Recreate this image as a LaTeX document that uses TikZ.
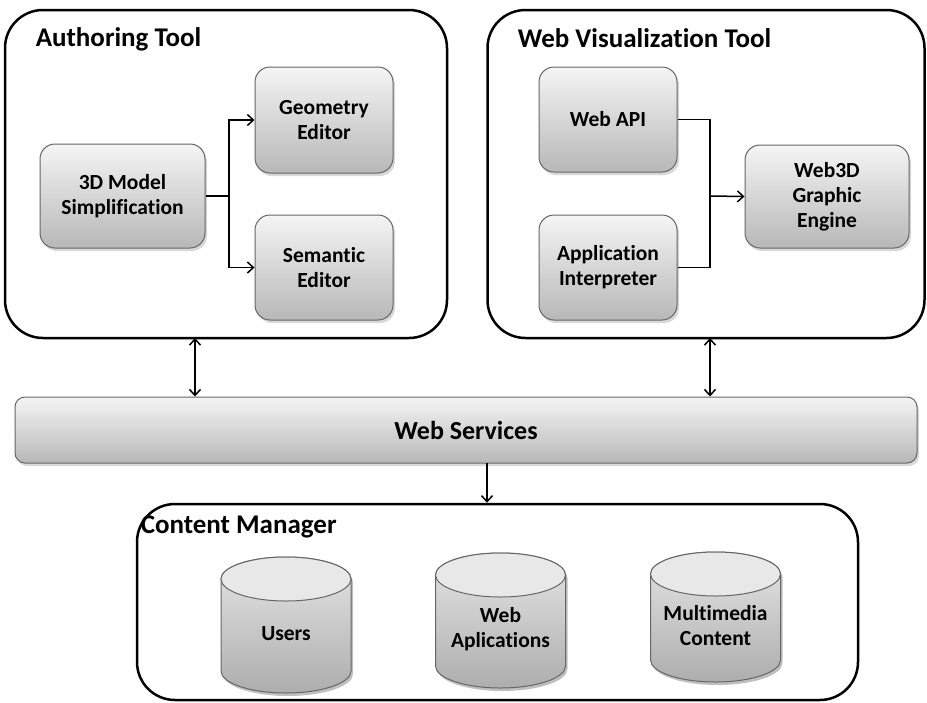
\documentclass[tikz,border=0pt]{standalone}
\usepackage{fontspec}
\setmainfont{Carlito}[RawFeature = {-liga;-clig;-calt;-dlig}]
\usetikzlibrary{shadows,arrows.meta}

% A database drum: name, centre x, top y, bottom y, text.
\newcommand{\dbdrum}[5]{%
    \fill[black, opacity = 0.25]
        (#2-63, #3+25) -- (#2-63, #4-19)
        arc[start angle = 180, end angle = 0, x radius = 65, y radius = 22]
        -- (#2+67, #3+25)
        arc[start angle = 0, end angle = -180, x radius = 65, y radius = 22] -- cycle;
    \shadedraw[dbbody]
        (#2-65, #3+22) -- (#2-65, #4-22)
        arc[start angle = 180, end angle = 0, x radius = 65, y radius = 22]
        -- (#2+65, #3+22)
        arc[start angle = 0, end angle = -180, x radius = 65, y radius = 22] -- cycle;
    \filldraw[dbtop] (#2, #3+22) ellipse[x radius = 65, y radius = 22];
    \node[dbtext] at (#2, {(#3+#4)/2+9}) (#1) {#5};
}

\begin{document}
\begin{tikzpicture}[%
        x = 1pt,
        y = -1pt,
        line width = 1.5pt,
        > = {Straight Barb[length = 6pt, width = 11pt]},
        outerbox/.style = {
            draw = black,
            line width = 2.5pt,
            rounded corners = 38pt,
            fill = white,
            inner sep = 0pt
        },
        boxtitle/.style = {
            anchor = base west,
            inner sep = 0pt,
            font = \bfseries\fontsize{27}{32}\selectfont
        },
        block/.style = {
            draw = black!60,
            line width = 1pt,
            rounded corners = 15pt,
            top color = black!4,
            bottom color = black!28,
            drop shadow = {shadow xshift = 2pt, shadow yshift = -3pt, opacity = 0.3},
            align = center,
            inner sep = 0pt,
            font = \bfseries\fontsize{21.5}{25}\selectfont
        },
        dbbody/.style = {
            draw = black!60,
            line width = 1pt,
            top color = black!10,
            bottom color = black!32
        },
        dbtop/.style = {
            draw = black!60,
            line width = 1pt,
            fill = black!9
        },
        dbtext/.style = {
            align = center,
            inner sep = 0pt,
            font = \bfseries\fontsize{21.5}{25}\selectfont
        }
    ]

        \useasboundingbox (0, 0) rectangle (927, 702);

        % Outer frames of the two tools and the content manager.
        \node[outerbox, minimum width = 442pt, minimum height = 328pt] at (226, 174) (auth) {};
        \node[outerbox, minimum width = 437pt, minimum height = 328pt] at (706, 174) (wvt) {};
        \node[outerbox, minimum width = 721pt, minimum height = 196pt] at (497.5, 602) (cm) {};

        \node[boxtitle] at (35, 46) (authl) {Authoring Tool};
        \node[boxtitle] at (517, 47) (wvtl) {Web Visualization Tool};
        \node[boxtitle] at (140, 533) (cml) {Content Manager};

        % Blocks of the authoring tool.
        \node[block, minimum width = 165pt, minimum height = 104pt] at (122.5, 196) (simp) {3D Model\\Simplification};
        \node[block, minimum width = 138pt, minimum height = 106pt] at (324, 120) (geo) {Geometry\\Editor};
        \node[block, minimum width = 138pt, minimum height = 105pt] at (324, 267.5) (sem) {Semantic\\Editor};

        % Blocks of the web visualization tool.
        \node[block, minimum width = 138pt, minimum height = 105pt] at (608, 119.5) (api) {Web API};
        \node[block, minimum width = 138pt, minimum height = 105pt] at (608, 267.5) (interp) {Application\\Interpreter};
        \node[block, minimum width = 164pt, minimum height = 103pt] at (827, 196.5) (engine) {Web3D\\Graphic\\Engine};

        % The web services bar.
        \node[block, rounded corners = 10pt, minimum width = 902pt, minimum height = 66pt,
              font = \bfseries\fontsize{26}{30}\selectfont] at (466, 430) (ws) {Web Services};

        % Databases of the content manager.
        \dbdrum{users}{286}{557}{693}{Users}
        \dbdrum{webapp}{500.5}{553}{688}{Web\\Aplications}
        \dbdrum{media}{715.5}{552}{682}{Multimedia\\Content}

        % Points where the connectors split or join.
        \coordinate (split) at (229, 196);
        \coordinate (join) at (710, 196);
        \coordinate (up1) at (195, 338);
        \coordinate (up2) at (710, 338);
        \coordinate (down) at (487, 463);

        % Connectors inside the two tools.
        \draw (simp.east) -- (split);
        \draw[->] (split) |- (geo.west);
        \draw[->] (split) |- (sem.west);
        \draw (api.east) -| (join);
        \draw (interp.east) -| (join);
        \draw[->] (join) -- (engine.west);

        % Connectors to and from the web services.
        \draw[<->] (up1) -- (up1 |- ws.north);
        \draw[<->] (up2) -- (up2 |- ws.north);
        \draw[->] (down) -- (down |- cm.north);
    \end{tikzpicture}
\end{document}
